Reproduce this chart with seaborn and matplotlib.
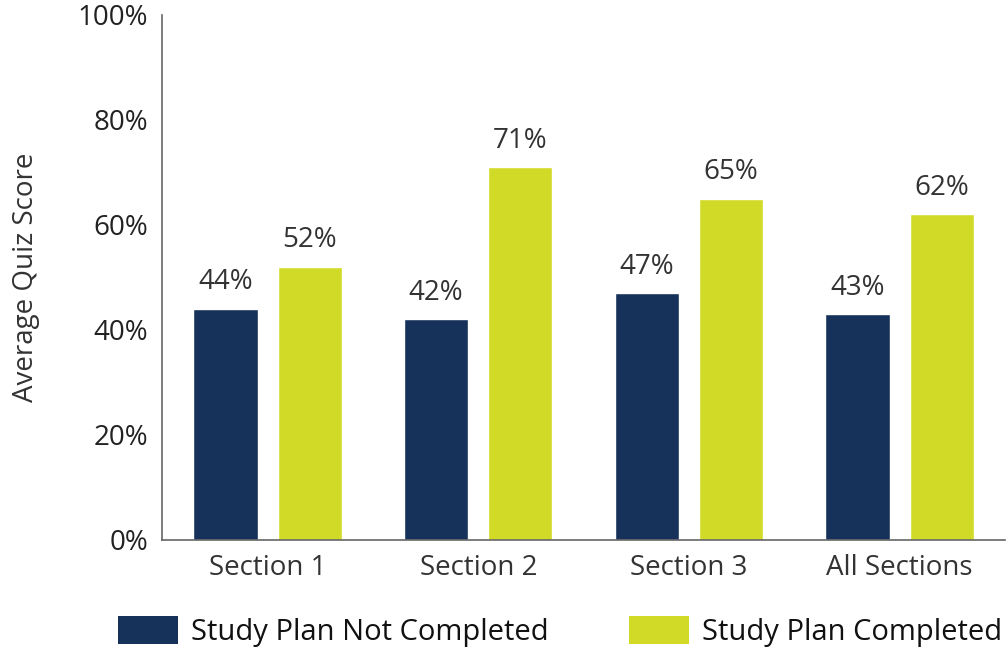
import pandas as pd
import seaborn as sns
import matplotlib.pyplot as plt
from matplotlib.patches import Patch

# data
sections = ["Section 1", "Section 2", "Section 3", "All Sections"]
not_completed = [44, 42, 47, 43]
completed = [52, 71, 65, 62]
groups = ["Study Plan Not Completed", "Study Plan Completed"]
colors = ["#16325a", "#d1db27"]

df = pd.DataFrame({
    "Section": sections * 2,
    "Score": not_completed + completed,
    "Group": [groups[0]] * 4 + [groups[1]] * 4,
})

sns.set_style("white")
plt.rcParams["font.family"] = ["Open Sans", "DejaVu Sans"]

fig = plt.figure(figsize=(10.08, 6.52), dpi=100)
ax = fig.add_axes([0.161, 0.172, 0.836, 0.805])

sns.barplot(data=df, x="Section", y="Score", hue="Group", palette=colors,
            saturation=1, width=0.8, gap=0.24, ax=ax, legend=False)

for cont in ax.containers:
    ax.bar_label(cont, labels=[f"{v:.0f}%" for v in cont.datavalues],
                 padding=9, fontsize=20, color="#333333")

ax.set_ylim(0, 100)
ax.set_xlim(-0.5, 3.5)
ax.set_yticks(range(0, 101, 20))
ax.set_yticklabels([f"{v}%" for v in range(0, 101, 20)])
ax.set_xlabel("")
ax.set_ylabel("Average Quiz Score", fontsize=20, color="#333333")
ax.yaxis.set_label_coords(-0.145, 0.5)

for s in ["top", "right"]:
    ax.spines[s].set_visible(False)
for s in ["left", "bottom"]:
    ax.spines[s].set_color("#666666")
    ax.spines[s].set_linewidth(1.2)

ax.tick_params(axis="y", direction="in", length=15, width=1.2, color="#666666",
               labelsize=20, labelcolor="#222222", pad=10)
ax.tick_params(axis="x", which="major", length=0, labelsize=20,
               labelcolor="#333333", pad=10)
ax.set_xticks([0.5, 1.5, 2.5, 3.5], minor=True)
ax.tick_params(axis="x", which="minor", direction="in", length=9, width=1.2,
               color="#666666")

handles = [Patch(facecolor=c, edgecolor="none") for c in colors]
ax.legend(handles, groups, loc="center", bbox_to_anchor=(0.472, -0.175),
          ncol=2, frameon=False, fontsize=21, handlelength=2.05, handleheight=1.05,
          columnspacing=2.75, handletextpad=0.45, labelcolor="#111111")

fig.savefig("out.png", dpi=100)
